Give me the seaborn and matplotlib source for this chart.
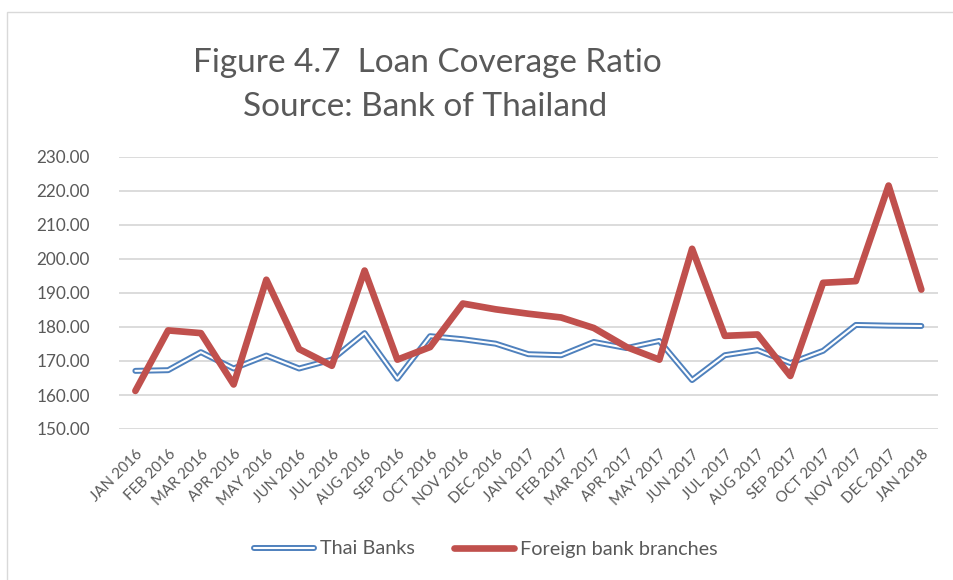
import numpy as np
import pandas as pd
import seaborn as sns
import matplotlib.pyplot as plt
import matplotlib.patheffects as pe
from matplotlib.patches import Rectangle

months = ["JAN 2016", "FEB 2016", "MAR 2016", "APR 2016", "MAY 2016", "JUN 2016",
          "JUL 2016", "AUG 2016", "SEP 2016", "OCT 2016", "NOV 2016", "DEC 2016",
          "JAN 2017", "FEB 2017", "MAR 2017", "APR 2017", "MAY 2017", "JUN 2017",
          "JUL 2017", "AUG 2017", "SEP 2017", "OCT 2017", "NOV 2017", "DEC 2017",
          "JAN 2018"]

thai_banks = [167.1, 167.3, 172.6, 167.8, 171.6, 167.8, 170.4, 178.2, 164.8, 177.3,
              176.4, 175.1, 172.0, 171.7, 175.6, 173.8, 175.9, 164.4, 171.7, 173.2,
              169.4, 173.0, 180.6, 180.4, 180.3]

foreign_branches = [161.2, 179.0, 178.2, 163.1, 193.9, 173.5, 168.6, 196.6, 170.4, 174.1,
                    186.9, 185.2, 183.9, 182.8, 179.7, 174.1, 170.4, 203.0, 177.4, 177.8,
                    165.6, 193.0, 193.5, 221.6, 191.0]

yticks = [150, 160, 170, 180, 190, 200, 210, 220, 230]

BLUE = "#4F81BD"
RED = "#C0504D"
TEXT = "#595959"
GRID = "#D9D9D9"

sns.set_theme(style="white")
plt.rcParams["font.family"] = ["Lato", "DejaVu Sans"]

df = pd.DataFrame({"idx": np.arange(len(months)),
                   "thai": thai_banks,
                   "foreign": foreign_branches})

fig = plt.figure(figsize=(9.54, 5.8), dpi=100)
ax = fig.add_axes([119 / 954, 1 - 429 / 580, (937.7 - 119) / 954, (429 - 157) / 580])

# Thai Banks: compound (double) line -> white core with a blue outline stroke
sns.lineplot(data=df, x="idx", y="thai", ax=ax, color="white", linewidth=1.5,
             label="Thai Banks", solid_capstyle="round", solid_joinstyle="round",
             path_effects=[pe.Stroke(linewidth=4.3, foreground=BLUE), pe.Normal()])
sns.lineplot(data=df, x="idx", y="foreign", ax=ax, color=RED, linewidth=4.8,
             label="Foreign bank branches", solid_capstyle="round",
             solid_joinstyle="round")

ax.set_xlim(-0.5, len(months) - 0.5)
ax.set_ylim(150, 230)
ax.set_yticks(yticks)
ax.set_yticklabels([f"{v:.2f}" for v in yticks], fontsize=12.3, color=TEXT)
ax.set_xticks(np.arange(len(months)))
ax.set_xticklabels(months, rotation=45, ha="right", va="top",
                   rotation_mode="anchor", fontsize=10.8, color=TEXT)
ax.tick_params(axis="y", length=0, pad=21)
ax.tick_params(axis="x", length=0, pad=13)
ax.set_xlabel("")
ax.set_ylabel("")
ax.yaxis.grid(True, color=GRID, linewidth=1.3)
ax.xaxis.grid(False)
for s in ax.spines.values():
    s.set_visible(False)
ax.set_axisbelow(True)

leg = ax.legend(loc="center", bbox_to_anchor=(486 / 954, 1 - 549 / 580),
                bbox_transform=fig.transFigure, ncol=2, frameon=False,
                fontsize=14.3, handlelength=3.0, handletextpad=0.3,
                columnspacing=2.0)
for t in leg.get_texts():
    t.set_color(TEXT)

fig.text(427 / 954, 1 - 63 / 580, "Figure 4.7  Loan Coverage Ratio",
         ha="center", va="center", fontsize=24, color=TEXT)
fig.text(425 / 954, 1 - 107 / 580, "Source: Bank of Thailand",
         ha="center", va="center", fontsize=24, color=TEXT)

# chart area border
fig.patches.append(Rectangle((7 / 954, -0.1), 1.1, 1 - 12 / 580 + 0.1,
                             transform=fig.transFigure, fill=False,
                             edgecolor=GRID, linewidth=1.0))

fig.savefig("out.png", dpi=100, facecolor="white")
